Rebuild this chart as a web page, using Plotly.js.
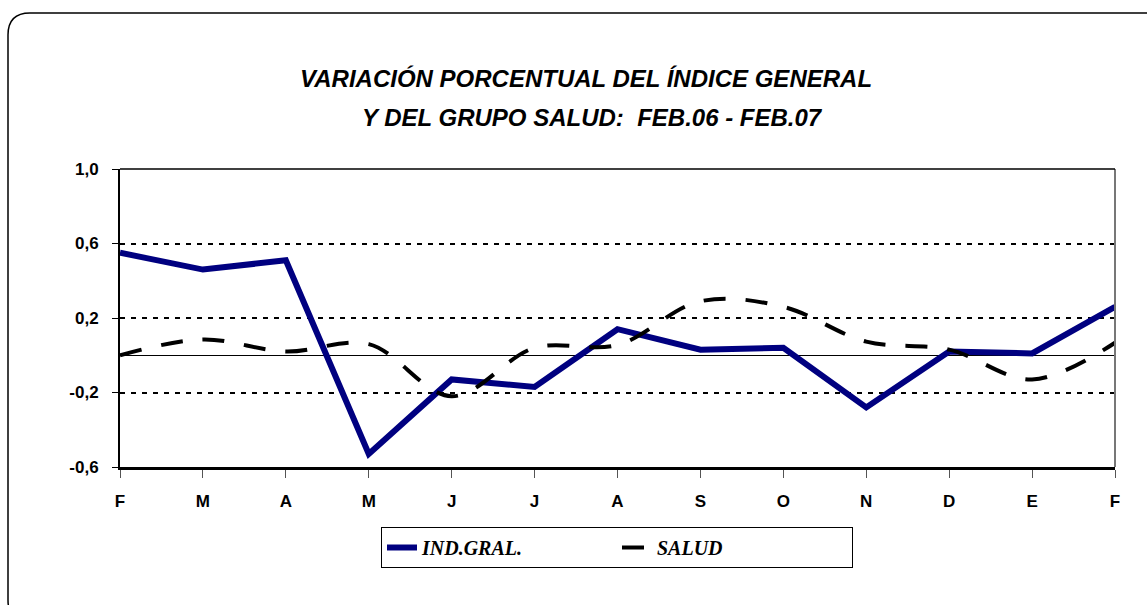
<!DOCTYPE html>
<html>
<head>
<meta charset="utf-8">
<script src="https://cdn.plot.ly/plotly-3.0.1.min.js"></script>
<style>html,body{margin:0;padding:0;background:#fff;}#chart{width:1147px;height:605px;}</style>
</head>
<body>
<div id="chart"></div>
<script>
const months = ["F","M","A","M","J","J","A","S","O","N","D","E","F"];
const indGral = [0.55, 0.46, 0.51, -0.53, -0.13, -0.17, 0.14, 0.03, 0.04, -0.28, 0.02, 0.01, 0.26];
const salud = [0.00, 0.085, 0.02, 0.06, -0.22, 0.04, 0.055, 0.29, 0.26, 0.073, 0.03, -0.13, 0.067];
const yTicks = [-0.6, -0.2, 0.2, 0.6, 1.0];
const yTickText = ["-0,6", "-0,2", "0,2", "0,6", "1,0"];

const idx = months.map((m, i) => i);

// pixel -> paper helpers (plot area: x 120..1115, y 169..467)
const L = 120, R = 1115, T = 169, B = 467;
const px = x => (x - L) / (R - L);
const py = y => (B - y) / (B - T);

function roundRect(x0, y0, x1, y1, r) {
  return `M ${px(x0)} ${py(y0 + r)} Q ${px(x0)} ${py(y0)} ${px(x0 + r)} ${py(y0)} ` +
    `L ${px(x1 - r)} ${py(y0)} Q ${px(x1)} ${py(y0)} ${px(x1)} ${py(y0 + r)} ` +
    `L ${px(x1)} ${py(y1 - r)} Q ${px(x1)} ${py(y1)} ${px(x1 - r)} ${py(y1)} ` +
    `L ${px(x0 + r)} ${py(y1)} Q ${px(x0)} ${py(y1)} ${px(x0)} ${py(y1 - r)} Z`;
}

const traces = [
  {
    x: idx, y: indGral, name: "<b><i>IND.GRAL.</i></b>", type: "scatter", mode: "lines",
    line: {color: "#000080", width: 6}
  },
  {
    x: idx, y: salud, name: "<b><i>SALUD</i></b>", type: "scatter", mode: "lines",
    line: {color: "#000000", width: 4, dash: "22px,20px", shape: "spline", smoothing: 1}
  }
];

const tickFont = {family: "Liberation Sans", size: 17, color: "#000", weight: "bold"};

const layout = {
  width: 1147, height: 605,
  margin: {l: L, r: 1147 - R, t: T, b: 605 - B, pad: 0},
  paper_bgcolor: "#ffffff", plot_bgcolor: "#ffffff",
  showlegend: true,
  legend: {
    orientation: "h", xref: "paper", yref: "paper",
    x: px(617), xanchor: "center", y: py(527), yanchor: "top",
    bordercolor: "#000000", borderwidth: 1, bgcolor: "#ffffff",
    font: {family: "Liberation Serif", size: 20, color: "#000"},
    entrywidth: 190, itemwidth: 30
  },
  xaxis: {
    range: [0, 12], tickvals: idx, ticktext: months,
    showgrid: false, zeroline: false,
    showline: true, linecolor: "#000", linewidth: 3, mirror: false,
    ticks: "outside", ticklen: 8, tickcolor: "#555", tickwidth: 1,
    ticklabelstandoff: 9,
    tickfont: tickFont,
    fixedrange: true
  },
  yaxis: {
    range: [-0.6, 1.0], tickvals: yTicks, ticktext: yTickText,
    showgrid: true, gridcolor: "#000", gridwidth: 2, griddash: "5px,6px",
    zeroline: true, zerolinecolor: "#000", zerolinewidth: 1.5,
    showline: true, linecolor: "#000", linewidth: 2, mirror: false,
    ticks: "outside", ticklen: 6, tickcolor: "#000",
    ticklabelstandoff: 10,
    tickfont: tickFont,
    fixedrange: true
  },
  shapes: [
    {type: "line", xref: "paper", yref: "paper", x0: 1, x1: 1, y0: 0, y1: 1,
     line: {color: "#777", width: 2}},
    {type: "line", xref: "paper", yref: "paper", x0: 0, x1: 1, y0: 1, y1: 1,
     line: {color: "#000", width: 1.5}},
    {type: "path", xref: "paper", yref: "paper", path: roundRect(8, 13, 1172, 622, 22),
     line: {color: "#000", width: 1.5}, fillcolor: "rgba(0,0,0,0)", layer: "below"}
  ],
  annotations: [
    {xref: "paper", yref: "paper", x: px(586), y: py(78), xanchor: "center", yanchor: "middle",
     showarrow: false, text: "<b><i>VARIACIÓN PORCENTUAL DEL ÍNDICE GENERAL</i></b>",
     font: {family: "Liberation Sans", size: 24, color: "#000"}},
    {xref: "paper", yref: "paper", x: px(592), y: py(117), xanchor: "center", yanchor: "middle",
     showarrow: false, text: "<b><i>Y DEL GRUPO SALUD:  FEB.06 - FEB.07</i></b>",
     font: {family: "Liberation Sans", size: 24, color: "#000"}}
  ]
};

Plotly.newPlot("chart", traces, layout, {displayModeBar: false, staticPlot: true});
</script>
</body>
</html>
